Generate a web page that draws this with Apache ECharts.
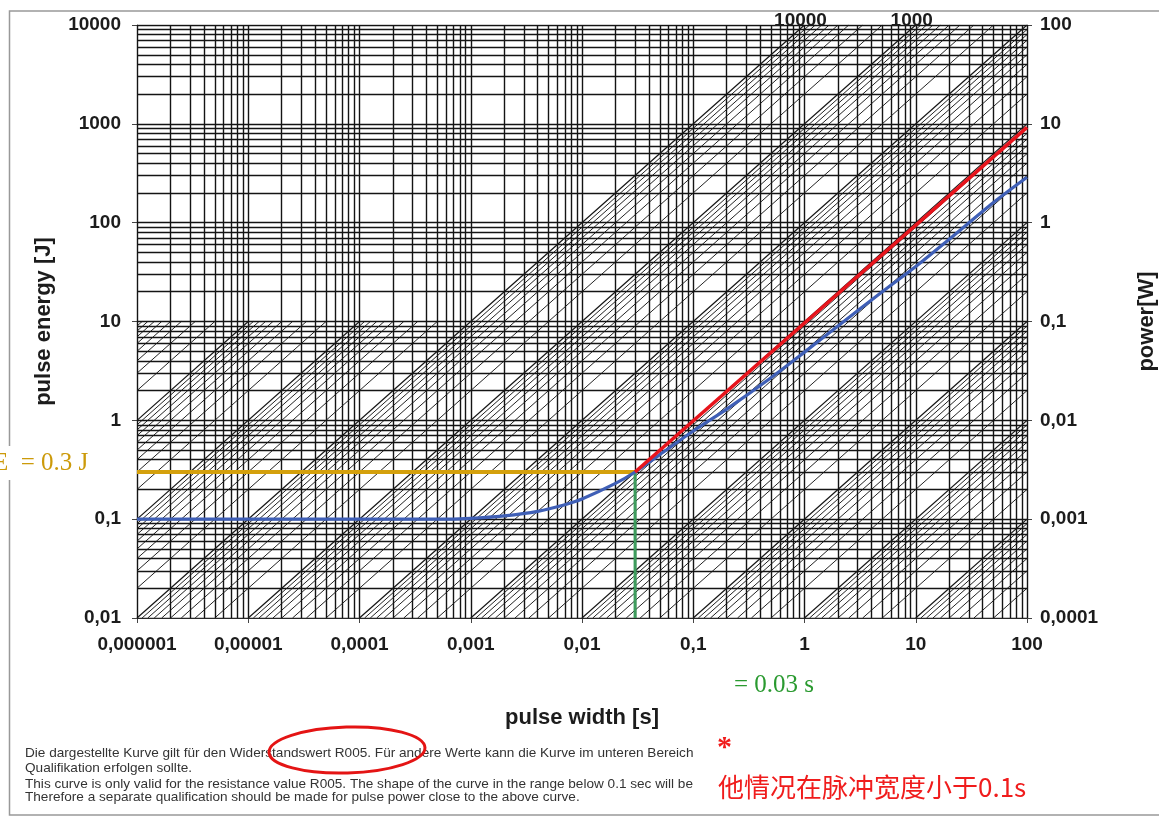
<!DOCTYPE html>
<html>
<head>
<meta charset="utf-8">
<script src="https://cdn.jsdelivr.net/npm/echarts@6/dist/echarts.min.js"></script>
<style>
  html, body { margin: 0; padding: 0; background: #fff; }
  #chart { width: 1159px; height: 817px; }
</style>
</head>
<body>
<div id="chart"></div>
<script>
// ---- axis extents ----
const widthRange = [1e-6, 100];        // pulse width [s]
const energyRange = [0.01, 10000];     // pulse energy [J]
const powerRange = [0.0001, 100];      // power [W] read at the right edge

// ---- tick labels (decimal comma) ----
const xTickLabels = ['0,000001', '0,00001', '0,0001', '0,001', '0,01', '0,1', '1', '10', '100'];
const energyTickLabels = ['0,01', '0,1', '1', '10', '100', '1000', '10000'];
const powerTickLabels = ['0,0001', '0,001', '0,01', '0,1', '1', '10', '100'];

// ---- log paper: multiples inside each decade ----
const gridMultiples = [1, 2, 3, 4, 5, 6, 7, 8, 9];
const widthDecades = [-6, -5, -4, -3, -2, -1, 0, 1, 2];
const energyDecades = [-2, -1, 0, 1, 2, 3, 4];
// constant-power lines E = P * t, P = multiple * 10^decade
const powerDecades = [-5, -4, -3, -2, -1, 0, 1, 2, 3, 4, 5, 6];
const powerBandLimit = 10000;   // lines above this power stop at fanCeiling
const fanCeiling = 10;
const topPowerLabels = [10000, 1000];

// ---- pulse load curve ----
const curveWidth = [1e-6, 1e-5, 1e-4, 5e-4, 1e-3, 2e-3, 4e-3, 7e-3, 0.01, 0.02, 0.03, 0.05, 0.1, 0.2, 0.5, 1, 2, 5, 10, 20, 50, 100];
const curveEnergy = [0.1, 0.1, 0.1, 0.1, 0.102, 0.108, 0.12, 0.14, 0.16, 0.23, 0.3, 0.45, 0.78, 1.3, 2.7, 4.9, 9, 20, 36, 68, 160, 288];

// ---- marked operating point and constant-power limit through it ----
const limitWidth = 0.03;
const limitEnergy = 0.3;
const limitLineWidth = [0.03, 100];
const limitLineEnergy = [0.3, 920];

// ---- footnote ----
const noteLines = [
  'Die dargestellte Kurve gilt für den Widerstandswert R005. Für andere Werte kann die Kurve im unteren Bereich',
  'Qualifikation erfolgen sollte.',
  'This curve is only valid for the resistance value R005. The shape of the curve in the range below 0.1 sec will be',
  'Therefore a separate qualification should be made for pulse power close to the above curve.'
];
const noteRows = [753, 768, 784, 797];

// ---------------------------------------------------------------
const decadeIndex = v => Math.round(Math.log10(v));

function values(decades, range) {
  const out = [];
  decades.forEach(d => gridMultiples.forEach(m => {
    const v = +(m * Math.pow(10, d)).toPrecision(6);
    if (v >= range[0] * 0.999 && v <= range[1] * 1.001) out.push(v);
  }));
  return out;
}

const verticalGrid = values(widthDecades, widthRange).map(v => ({ coords: [[v, energyRange[0]], [v, energyRange[1]]] }));
const horizontalGrid = values(energyDecades, energyRange).map(v => ({ coords: [[widthRange[0], v], [widthRange[1], v]] }));

const majorDiag = [], minorDiag = [];
powerDecades.forEach(d => gridMultiples.forEach(m => {
  const p = m * Math.pow(10, d);
  const eMax = p > powerBandLimit ? fanCeiling : energyRange[1];
  const t0 = Math.max(widthRange[0], energyRange[0] / p);
  const t1 = Math.min(widthRange[1], eMax / p);
  if (t1 / t0 > 1.0001) {
    (m === 1 ? majorDiag : minorDiag).push({ coords: [[t0, p * t0], [t1, p * t1]] });
  }
}));

const chart = echarts.init(document.getElementById('chart'), null, { renderer: 'canvas' });

const tickFont = { fontFamily: 'Liberation Sans', fontWeight: 'bold', fontSize: 19, color: '#1c1c1c' };
const nameFont = { fontFamily: 'Liberation Sans', fontWeight: 'bold', fontSize: 22, color: '#1c1c1c' };

function linesSeries(data, color, width, z) {
  return {
    type: 'lines', coordinateSystem: 'cartesian2d', xAxisIndex: 0, yAxisIndex: 0,
    data, silent: true, z, polyline: false,
    lineStyle: { color, width, opacity: 1, curveness: 0 },
    animation: false
  };
}

const option = {
  backgroundColor: '#fff',
  animation: false,
  grid: { left: 137, top: 25, width: 890, height: 593, containLabel: false, outerBoundsMode: 'none' },
  xAxis: {
    type: 'log', logBase: 10, min: widthRange[0], max: widthRange[1],
    name: 'pulse width [s]', nameLocation: 'middle', nameGap: 89, nameTextStyle: nameFont,
    axisLine: { show: true, lineStyle: { color: '#666', width: 1 } },
    axisTick: { show: true, inside: false, length: 5, lineStyle: { color: '#444' } },
    axisLabel: Object.assign({ margin: 17, formatter: v => xTickLabels[decadeIndex(v) + 6] }, tickFont),
    splitLine: { show: false }, minorTick: { show: false }
  },
  yAxis: [
    {
      type: 'log', logBase: 10, min: energyRange[0], max: energyRange[1], position: 'left',
      name: 'pulse energy [J]', nameLocation: 'middle', nameRotate: 90, nameGap: 82, nameTextStyle: nameFont,
      axisLine: { show: true, lineStyle: { color: '#666', width: 1 } },
      axisTick: { show: true, inside: false, length: 5, lineStyle: { color: '#444' } },
      axisLabel: Object.assign({ margin: 16, formatter: v => energyTickLabels[decadeIndex(v) + 2] }, tickFont),
      splitLine: { show: false }
    },
    {
      type: 'log', logBase: 10, min: powerRange[0], max: powerRange[1], position: 'right',
      name: 'power[W]', nameLocation: 'middle', nameRotate: 90, nameGap: 109, nameTextStyle: nameFont,
      axisLine: { show: true, lineStyle: { color: '#666', width: 1 } },
      axisTick: { show: true, inside: false, length: 5, lineStyle: { color: '#444' } },
      axisLabel: Object.assign({ margin: 13, formatter: v => powerTickLabels[decadeIndex(v) + 4] }, tickFont),
      splitLine: { show: false }
    }
  ],
  series: [
    linesSeries(minorDiag, '#242424', 1.0, 1),
    linesSeries(majorDiag, '#161616', 1.2, 2),
    linesSeries(verticalGrid, '#141414', 1.4, 3),
    linesSeries(horizontalGrid, '#141414', 1.4, 3),
    {
      type: 'scatter', xAxisIndex: 0, yAxisIndex: 0, symbolSize: 1, silent: true, z: 6,
      itemStyle: { opacity: 0 },
      data: topPowerLabels.map(p => [energyRange[1] / p, energyRange[1]]),
      label: {
        show: true, position: 'top', distance: -6, offset: [-4, 0],
        formatter: prm => String(topPowerLabels[prm.dataIndex]),
        fontFamily: 'Liberation Sans', fontWeight: 'bold', fontSize: 19, color: '#1c1c1c',
        textBorderWidth: 0, opacity: 1
      }
    },
    {
      type: 'line', xAxisIndex: 0, yAxisIndex: 0, z: 10, silent: true, symbol: 'none',
      data: [[widthRange[0], limitEnergy], [limitWidth, limitEnergy]],
      lineStyle: { color: '#d4a00c', width: 4 }
    },
    {
      type: 'line', xAxisIndex: 0, yAxisIndex: 0, z: 10, silent: true, symbol: 'none',
      data: [[limitWidth, limitEnergy], [limitWidth, energyRange[0]]],
      lineStyle: { color: '#3d9c5c', width: 3 }
    },
    {
      type: 'line', xAxisIndex: 0, yAxisIndex: 0, z: 11, silent: true, symbol: 'none', smooth: 0.3,
      data: curveWidth.map((t, i) => [t, curveEnergy[i]]),
      lineStyle: { color: '#3f5fb6', width: 3.2 }
    },
    {
      type: 'line', xAxisIndex: 0, yAxisIndex: 0, z: 12, silent: true, symbol: 'none',
      data: limitLineWidth.map((t, i) => [t, limitLineEnergy[i]]),
      lineStyle: { color: '#e8141c', width: 3.5 }
    }
  ],
  graphic: [
    // figure frame
    { type: 'rect', z: 50, silent: true, shape: { x: 9.5, y: 11, width: 1200, height: 804 },
      style: { fill: 'none', stroke: '#999', lineWidth: 1.5 } },
    { type: 'rect', z: 60, silent: true, shape: { x: 0, y: 446, width: 100, height: 34 }, style: { fill: '#fff' } },
    { type: 'text', z: 70, silent: true, x: -7, y: 463,
      style: { text: 'E  = 0.3 J', font: '25px "Liberation Serif"', fill: '#cc9a0a', verticalAlign: 'middle' } },
    { type: 'text', z: 70, silent: true, x: 734, y: 685,
      style: { text: '= 0.03 s', font: '25px "Liberation Serif"', fill: '#2a9a30', verticalAlign: 'middle' } },
    { type: 'text', z: 70, silent: true, x: 717, y: 748,
      style: { text: '*', font: 'bold 30px "Liberation Serif"', fill: '#f01c1c', verticalAlign: 'middle' } },
    { type: 'text', z: 70, silent: true, x: 718, y: 787,
      style: { text: '他情况在脉冲宽度小于0.1s', font: '26px "Noto Sans CJK SC"', fill: '#f01c1c', verticalAlign: 'middle' } },
    ...noteLines.map((s, i) => ({
      type: 'text', z: 70, silent: true, x: 25, y: noteRows[i],
      style: { text: s, font: '13.6px "Liberation Sans"', fill: '#333', verticalAlign: 'middle' }
    })),
    { type: 'ellipse', z: 75, silent: true, rotation: 0.03, originX: 347, originY: 750,
      shape: { cx: 347, cy: 750, rx: 78, ry: 23 },
      style: { fill: 'none', stroke: '#e41414', lineWidth: 3 } }
  ]
};

chart.setOption(option);
</script>
</body>
</html>
